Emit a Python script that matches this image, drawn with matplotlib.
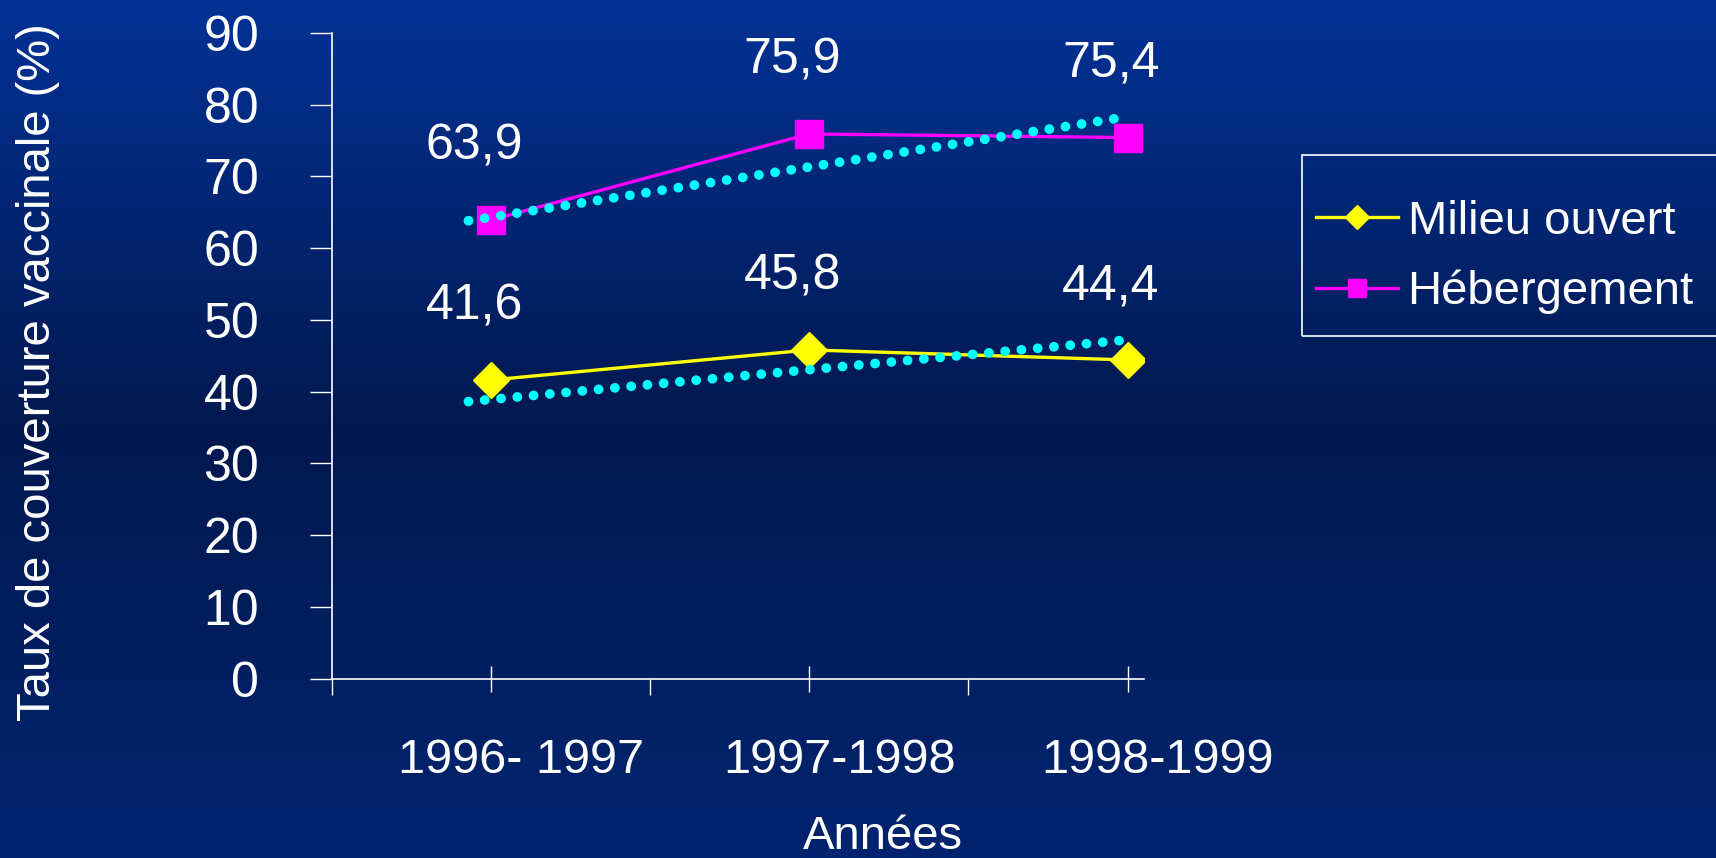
import numpy as np
import matplotlib
matplotlib.use("Agg")
import matplotlib.pyplot as plt
import matplotlib.transforms as mtransforms
from matplotlib.lines import Line2D
from matplotlib.patches import Rectangle

# Data
annees = ["1996- 1997", "1997-1998", "1998-1999"]
milieu_ouvert = [41.6, 45.8, 44.4]
hebergement = [63.9, 75.9, 75.4]
labels_milieu = ["41,6", "45,8", "44,4"]
labels_heberg = ["63,9", "75,9", "75,4"]

# dotted trend lines (start / end)
trend_x = [-0.07, 2.0]
trend_milieu = [38.6, 47.2]
trend_heberg = [63.8, 78.3]

plt.rcParams['font.family'] = ['Liberation Sans', 'DejaVu Sans']
FS = 35

fig = plt.figure(figsize=(17.16, 8.58), dpi=100)

# background gradient (light blue at top and bottom, darker in the middle)
bg = fig.add_axes([0, 0, 1, 1], zorder=-10)
bg.axis('off')
stops = np.array([[1, 36, 112], [2, 24, 78], [2, 50, 150]]) / 255.0
pos = np.array([0.0, 0.5, 1.0])
t = np.linspace(0, 1, 256)
grad = np.stack([np.interp(t, pos, stops[:, c]) for c in range(3)], axis=1)
bg.imshow(grad[:, None, :], aspect='auto', extent=[0, 1, 0, 1])
bg.set_xlim(0, 1)
bg.set_ylim(1, 0)

ax = fig.add_axes([0.1932, 0.2092, 0.4732, 0.7526])
ax.patch.set_alpha(0)

x = np.arange(len(annees))

for tr in (trend_heberg, trend_milieu):
    ax.plot(trend_x, tr, color='#00FFFF', lw=7, ls=(0, (0.01, 1.67)),
            dash_capstyle='round', zorder=3)

ax.plot(x, hebergement, color='#FF00FF', lw=2.4, marker='s', ms=20,
        mfc='#FF00FF', mec='#FF00FF', zorder=2)
ax.plot(x, milieu_ouvert, color='#FFFF00', lw=2.4, marker='D', ms=18,
        mfc='#FFFF00', mec='#FFFF00', zorder=2)

for xi, v, lab in zip(x, hebergement, labels_heberg):
    ax.annotate(lab, (xi, v), xytext=(-12, 53), textcoords='offset points',
                ha='center', va='center', color='white', fontsize=FS + 1)
for xi, v, lab in zip(x, milieu_ouvert, labels_milieu):
    ax.annotate(lab, (xi, v), xytext=(-12, 53), textcoords='offset points',
                ha='center', va='center', color='white', fontsize=FS + 1)

ax.set_xlim(-0.5, 2.05)
ax.set_ylim(0, 90)
ax.set_yticks(range(0, 91, 10))
ax.set_xticks(x)
ax.set_xticks([-0.5, 0.5, 1.5], minor=True)
ax.set_xticklabels(annees, fontsize=FS, color='white')
ax.tick_params(axis='y', colors='white', labelsize=FS + 1, length=16, width=1,
               pad=36, direction='out')
ax.tick_params(axis='x', which='major', colors='white', length=19, width=1,
               direction='inout', pad=33)
ax.tick_params(axis='x', which='minor', colors='white', length=11.5, width=1,
               direction='out')

# shift the category labels a bit to the right, like the original
offset = mtransforms.ScaledTranslation(30 / 100, 0, fig.dpi_scale_trans)
for lbl in ax.get_xticklabels():
    lbl.set_transform(lbl.get_transform() + offset)

for side in ['top', 'right']:
    ax.spines[side].set_visible(False)
for side in ['left', 'bottom']:
    ax.spines[side].set_color('white')
    ax.spines[side].set_linewidth(1.2)

fig.text(0.022, 0.566, "Taux de couverture vaccinale (%)", rotation=90,
         ha='center', va='center', color='white', fontsize=FS - 1)
fig.text(0.5146, 0.0245, "Années", ha='center', va='center', color='white',
         fontsize=FS - 1)

# legend box runs off the right edge in the original
fig.patches.append(Rectangle((1302 / 1716, 1 - 336 / 858), 0.3, 181 / 858,
                             transform=fig.transFigure, facecolor='none',
                             edgecolor='white', lw=1.2))
handles = [
    Line2D([], [], color='#FFFF00', lw=2.4, marker='D', ms=12,
           mfc='#FFFF00', mec='#FFFF00'),
    Line2D([], [], color='#FF00FF', lw=2.4, marker='s', ms=13,
           mfc='#FF00FF', mec='#FF00FF'),
]
leg = fig.legend(handles, ["Milieu ouvert", "Hébergement"],
                 loc='center left', bbox_to_anchor=(1316 / 1716, 1 - 257 / 858),
                 fontsize=FS - 1, frameon=False,
                 handlelength=1.74, handletextpad=0.2, labelspacing=0.55,
                 borderpad=0, borderaxespad=0)
for txt in leg.get_texts():
    txt.set_color('white')

fig.savefig("out.png", dpi=100)
